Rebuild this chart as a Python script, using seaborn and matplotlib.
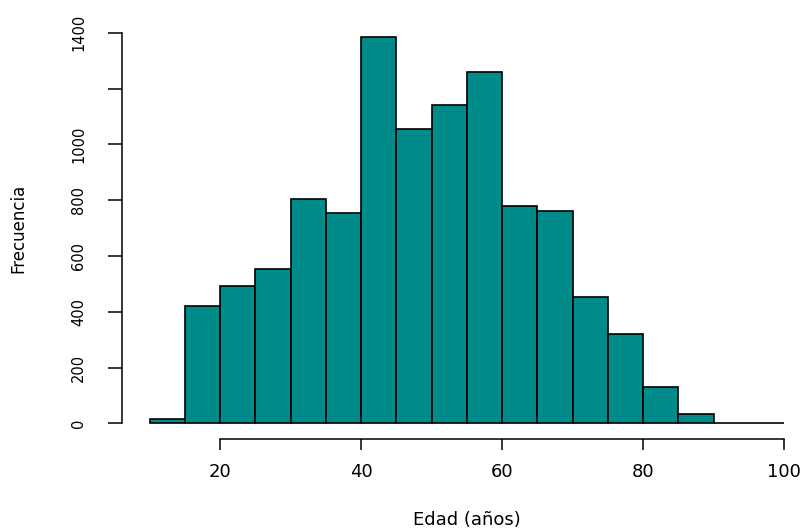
import numpy as np
import matplotlib
matplotlib.use("Agg")
import matplotlib.pyplot as plt
import seaborn as sns

# Age bins (5-year width) and patient counts per bin
bin_edges = [10, 15, 20, 25, 30, 35, 40, 45, 50, 55, 60, 65, 70, 75, 80, 85, 90, 95, 100]
counts = [15, 420, 492, 553, 803, 753, 1385, 1055, 1140, 1260, 778, 762, 452, 321, 129, 35, 0, 0]

x_ticks = [20, 40, 60, 80, 100]
y_ticks = [0, 200, 400, 600, 800, 1000, 1200, 1400]
y_tick_labels = ["0", "200", "400", "600", "800", "1000", "", "1400"]

x_label = "Edad (años)"
y_label = "Frecuencia"

sns.set_style("white")
plt.rcParams["font.family"] = ["DejaVu Sans"]
plt.rcParams["text.color"] = "black"

fig = plt.figure(figsize=(8.05, 5.31), dpi=100)
W, H = 805, 531
left_px, bottom_px = 122.3, 439.3
ax = fig.add_axes([left_px / W, (H - bottom_px) / H, 1 - left_px / W, bottom_px / H])

centers = [(a + b) / 2 for a, b in zip(bin_edges[:-1], bin_edges[1:])]
sns.histplot(x=centers, weights=counts, bins=bin_edges, ax=ax,
             color="#008B8B", alpha=1.0, edgecolor="black", linewidth=1.2)

# data limits chosen so the plot region sits like an R base graphic
px_per_x = 7.05
px_per_y = 0.279
ax.set_xlim(10 - (149.5 - left_px) / px_per_x, 10 + (W - 149.5) / px_per_x)
ax.set_ylim(-(bottom_px - 423.3) / px_per_y, 423.3 / px_per_y)

for side in ("top", "right"):
    ax.spines[side].set_visible(False)
for side in ("left", "bottom"):
    ax.spines[side].set_linewidth(1.1)
    ax.spines[side].set_color("black")
ax.spines["left"].set_bounds(0, 1400)
ax.spines["bottom"].set_bounds(20, 100)

ax.set_xticks(x_ticks)
ax.set_xticklabels([str(v) for v in x_ticks], fontsize=13)
ax.set_yticks(y_ticks)
ax.set_yticklabels(y_tick_labels, fontsize=10.5, rotation=90, va="center")

ax.tick_params(axis="x", length=8.2, width=1.1, pad=9, direction="out", bottom=True,
               colors="black", labelcolor="black")
ax.tick_params(axis="y", length=10, width=1.1, pad=16, direction="out", left=True,
               colors="black", labelcolor="black")

ax.set_xlabel("")
ax.set_ylabel("")
fig.text(466.7 / W, 1 - 520 / H, x_label, ha="center", va="center", fontsize=13, color="black")
fig.text(18 / W, 1 - 228 / H, y_label, ha="center", va="center", fontsize=12, rotation=90,
         color="black")

ax.grid(False)
fig.savefig("out.png", dpi=100)
